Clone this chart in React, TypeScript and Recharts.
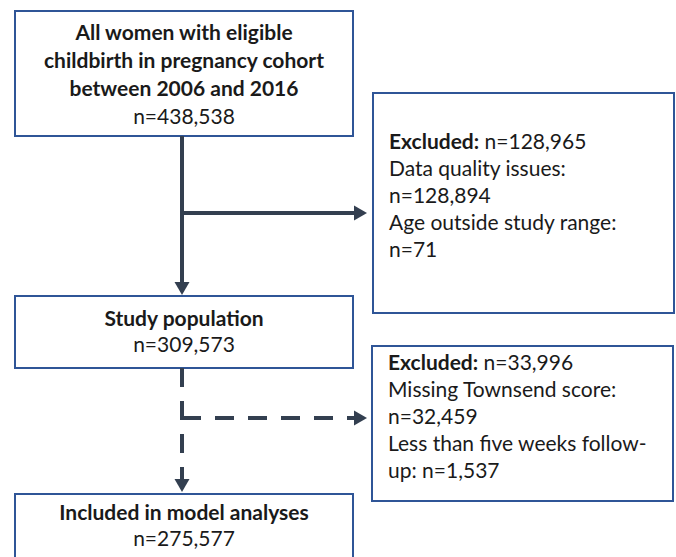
import { ComposedChart, XAxis, YAxis, ReferenceArea, ReferenceLine, Scatter } from "recharts";

const W = 676;
const H = 557;
const BORDER = "#2F5597";
const ARROW = "#333F50";
const FONT = "Lato, 'Noto Sans', sans-serif";
const FS = 21;

// counts shown in the flow chart
const nAll = 438538;
const nStudy = 309573;
const nIncluded = 275577;
const nExcluded1 = 128965;
const nDataQuality = 128894;
const nAgeRange = 71;
const nExcluded2 = 33996;
const nTownsend = 32459;
const nFollowUp = 1537;

const cohortTitle = ["All women with eligible", "childbirth in pregnancy cohort", "between 2006 and 2016"];
const studyTitle = ["Study population"];
const includedTitle = ["Included in model analyses"];

const fmt = (n: number) => "n=" + n.toLocaleString("en-US");

type Line = { text: string; bold?: boolean; lead?: string };

const box1Lines: Line[] = [...cohortTitle.map((t) => ({ text: t, bold: true })), { text: fmt(nAll) }];
const box2Lines: Line[] = [
  { lead: "Excluded:", text: " " + fmt(nExcluded1) },
  { text: "Data quality issues:" },
  { text: fmt(nDataQuality) },
  { text: "Age outside study range:" },
  { text: fmt(nAgeRange) },
];
const box3Lines: Line[] = [...studyTitle.map((t) => ({ text: t, bold: true })), { text: fmt(nStudy) }];
const box4Lines: Line[] = [
  { lead: "Excluded:", text: " " + fmt(nExcluded2) },
  { text: "Missing Townsend score:" },
  { text: fmt(nTownsend) },
  { text: "Less than five weeks follow-" },
  { text: "up: " + fmt(nFollowUp) },
];
const box5Lines: Line[] = [...includedTitle.map((t) => ({ text: t, bold: true })), { text: fmt(nIncluded) }];

// layout
const boxes = [
  { x1: 15, x2: 353, y1: 11, y2: 136, lines: box1Lines, align: "middle", lh: 28, shift: 1 },
  { x1: 373, x2: 674, y1: 93, y2: 313, lines: box2Lines, align: "start", lh: 26.8, shift: -7 },
  { x1: 15, x2: 353, y1: 296, y2: 368, lines: box3Lines, align: "middle", lh: 26, shift: 0 },
  { x1: 372, x2: 673, y1: 346, y2: 501, lines: box4Lines, align: "start", lh: 27, shift: -7 },
  { x1: 15, x2: 353, y1: 494, y2: 564, lines: box5Lines, align: "middle", lh: 26, shift: -3 },
];

const solidLinks = [
  [{ x: 182, y: 136 }, { x: 182, y: 284 }],
  [{ x: 182, y: 213 }, { x: 356, y: 213 }],
];
const dashedLinks = [
  [{ x: 182, y: 368 }, { x: 182, y: 480 }],
  [{ x: 182, y: 418 }, { x: 358, y: 418 }],
];
const arrowTips = [
  { x: 182, y: 295, dir: "down" },
  { x: 367, y: 213, dir: "right" },
  { x: 182, y: 492, dir: "down" },
  { x: 367, y: 418, dir: "right" },
];

function BoxText(props: any) {
  const { viewBox, lines, align, lh, shift } = props;
  const { x, y, width, height } = viewBox;
  const cy = y + height / 2 + shift;
  const first = cy - ((lines.length - 1) * lh) / 2;
  const tx = align === "middle" ? x + width / 2 : x + 16;
  return (
    <g>
      {lines.map((l: Line, i: number) => (
        <text
          key={i}
          x={tx}
          y={first + i * lh + 7}
          textAnchor={align}
          fontFamily={FONT}
          fontSize={FS}
          fontWeight={l.bold ? 700 : 400}
          fill="#1a1a1a"
        >
          {l.lead && <tspan fontWeight={700}>{l.lead}</tspan>}
          <tspan>{l.text}</tspan>
        </text>
      ))}
    </g>
  );
}

function ArrowHead(props: any) {
  const { cx, cy, payload } = props;
  const s = 7.5;
  const len = 13;
  const pts =
    payload.dir === "down"
      ? `${cx - s},${cy - len} ${cx + s},${cy - len} ${cx},${cy}`
      : `${cx - len},${cy - s} ${cx - len},${cy + s} ${cx},${cy}`;
  return <polygon points={pts} fill={ARROW} />;
}

export default function App() {
  return (
    <div style={{ position: "absolute", left: 0, top: 0, background: "#fff" }}>
      <ComposedChart width={W} height={H} margin={{ top: 0, right: 0, bottom: 0, left: 0 }}>
        <XAxis dataKey="x" type="number" domain={[0, W]} hide allowDataOverflow />
        <YAxis dataKey="y" type="number" domain={[0, H]} reversed hide allowDataOverflow />
        {solidLinks.map((seg, i) => (
          <ReferenceLine key={"s" + i} segment={seg} stroke={ARROW} strokeWidth={4} ifOverflow="visible" />
        ))}
        {dashedLinks.map((seg, i) => (
          <ReferenceLine
            key={"d" + i}
            segment={seg}
            stroke={ARROW}
            strokeWidth={4}
            strokeDasharray="19 14"
            ifOverflow="visible"
          />
        ))}
        {boxes.map((b, i) => (
          <ReferenceArea
            key={"b" + i}
            x1={b.x1}
            x2={b.x2}
            y1={b.y1}
            y2={b.y2}
            fill="#fff"
            fillOpacity={1}
            stroke={BORDER}
            strokeWidth={2}
            ifOverflow="visible"
            label={(p: any) => <BoxText viewBox={p.viewBox} lines={b.lines} align={b.align} lh={b.lh} shift={b.shift} />}
          />
        ))}
        <Scatter data={arrowTips} dataKey="y" shape={ArrowHead} isAnimationActive={false} />
      </ComposedChart>
    </div>
  );
}
